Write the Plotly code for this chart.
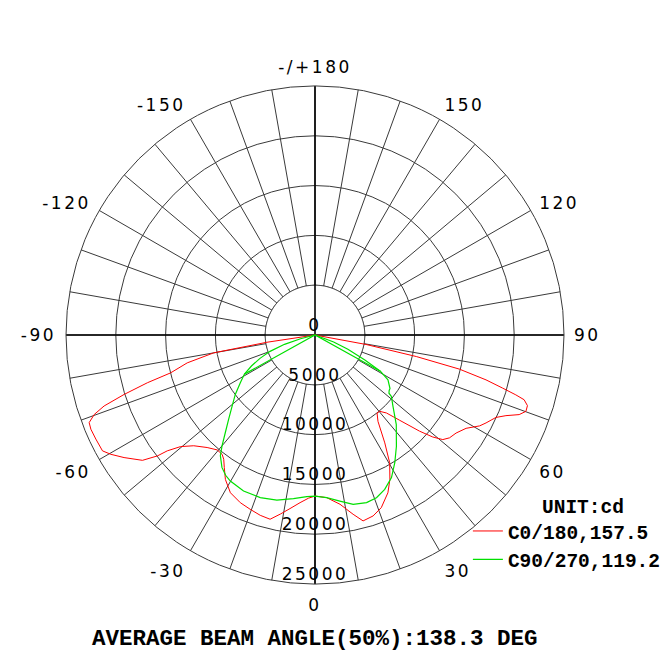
import plotly.graph_objects as go

# luminous intensity distribution (cd)
# C0/180 plane
c0_theta = [-82, -81.4, -80.0, -77.7, -75.3, -74.1, -72.7, -71.4, -70.2, -68.8,
            -67.2, -64.6, -61.4, -59.7, -57.3, -54.0, -52.5, -51.9, -50.3, -47.6,
            -43.8, -40.4, -37.9, -36.3, -34.4, -31.8, -28.2, -24.0, -20.4, -16.9,
            -13.7, -10.9, -8.2, -5.1, -2.3, 0, 4.1, 8.4, 12.0, 14.5,
            17.8, 21.0, 24.8, 27.4, 30.3, 32.9, 36.1, 38.5, 40.3, 42.5,
            44.8, 47.4, 49.1, 50.7, 52.6, 55.2, 58.3, 61.1, 62.8, 65.5,
            67.1, 68.7, 70.1, 71.6, 72.8, 73.4, 74.2, 75.3, 76.7, 78.0,
            79.5, 82]
c0_cd = [0, 4890, 10330, 13130, 14990, 17500, 20080, 22340, 23560, 24320,
         24410, 24360, 24300, 23740, 22780, 21410, 19940, 18850, 17540, 16490,
         15650, 15150, 15180, 15480, 16120, 17070, 17970, 18430, 18670, 18920,
         19040, 18300, 17610, 16900, 16400, 16170, 16370, 17180, 18400, 19280,
         19080, 18570, 17450, 16340, 14860, 12900, 10730, 10010, 10050, 10620,
         12070, 14270, 15640, 16580, 17000, 17250, 17830, 18880, 19310, 19960,
         20810, 22000, 22520, 22480, 21980, 21040, 19570, 17750, 14900, 10400,
         5200, 0]

# C90/270 plane (None splits off the straight closing strokes)
c90_theta = [-78, -75.5, -73, -70, -67, -64, -61, -57.4, -53.3, -49.4,
             -45.7, -42.6, -40.0, -38.1, -35.1, -32.5, -30.1, -24.6, -18.6, -13.0,
             -7.5, -2.9, 0, 4.1, 8.5, 12.7, 17.1, 20.7, 24.3, 28.2,
             32.0, 36.2, 42.2, 47.5, 51.2, 51.8, 53.2, 54.5, 58.4, 61.0,
             63.4, 66.5, 69.5, 72, None, -61, 0, 61]
c90_cd = [0, 1500, 3200, 4800, 6000, 7100, 8100, 8900, 9980, 10960,
          12120, 13300, 14520, 15400, 16250, 16700, 16950, 17230, 17230, 17010,
          16570, 16250, 16170, 16370, 16860, 17430, 17610, 17460, 17010, 16250,
          15120, 13840, 12150, 10620, 9840, 9450, 9300, 9250, 8600, 7500,
          5600, 3600, 2000, 0, None, 8100, 0, 7500]

r_ticks = [0, 5000, 10000, 15000, 20000, 25000]
r_labels = ["0", "5000", "10000", "15000", "20000", "25000"]
ang_ticks = list(range(0, 360, 10))
ang_names = {0: "0", 30: "30", 60: "60", 90: "90", 120: "120", 150: "150",
             180: "-/+180", 210: "-150", 240: "-120", 270: "-90", 300: "-60", 330: "-30"}

grid_col = "#3a3a3a"
spaced = '<span style="letter-spacing:2.5px">%s</span>'
lab_font = dict(family="DejaVu Sans", size=17, color="black")
mono_font = dict(family="Liberation Mono", size=19.5, color="black", weight="bold")

r_max = r_ticks[-1]
r_hub = r_ticks[1]

fig = go.Figure()

# white hub so the spokes start at the first ring
fig.add_trace(go.Scatterpolar(
    r=[r_hub] * 361, theta=list(range(361)), mode="lines",
    fill="toself", fillcolor="white",
    line=dict(color=grid_col, width=1),
    showlegend=False, hoverinfo="skip"))

# main cross through the centre
fig.add_trace(go.Scatterpolar(
    r=[r_max, 0, r_max, None, r_max, 0, r_max],
    theta=[0, 0, 180, None, 90, 90, 270],
    mode="lines", line=dict(color="black", width=1.6),
    showlegend=False, hoverinfo="skip"))

fig.add_trace(go.Scatterpolar(
    r=c0_cd, theta=c0_theta, mode="lines",
    name="C0/180,157.5", line=dict(color="#ff0000", width=1)))

fig.add_trace(go.Scatterpolar(
    r=c90_cd, theta=c90_theta, mode="lines",
    name="C90/270,119.2", line=dict(color="#00e000", width=1.2)))

# radial labels down the 0 deg spoke
fig.add_trace(go.Scatterpolar(
    r=r_ticks, theta=[0] * len(r_ticks), mode="text",
    text=[spaced % t for t in r_labels], textposition="top center",
    textfont=lab_font, showlegend=False, hoverinfo="skip"))

fig.update_layout(
    width=670, height=670,
    margin=dict(l=58, r=114, t=78, b=94, autoexpand=False),
    paper_bgcolor="white",
    polar=dict(
        bgcolor="white",
        angularaxis=dict(
            rotation=-90, direction="counterclockwise",
            tickmode="array", tickvals=ang_ticks,
            ticktext=[spaced % ang_names[a] if a in ang_names else "" for a in ang_ticks],
            ticks="outside", ticklen=6, tickcolor="rgba(0,0,0,0)",
            tickfont=lab_font,
            showline=True, linecolor=grid_col, linewidth=1,
            gridcolor=grid_col, gridwidth=1),
        radialaxis=dict(
            range=[0, r_max], tickmode="array", tickvals=r_ticks,
            showticklabels=False, ticks="", showline=False,
            gridcolor=grid_col, gridwidth=1),
    ),
    showlegend=True,
    legend=dict(x=0.807, y=0.145, xanchor="left", yanchor="top",
                font=mono_font, bgcolor="rgba(0,0,0,0)",
                itemwidth=30, tracegroupgap=0),
    annotations=[
        dict(text="UNIT:cd", x=1.038, y=0.1536, xref="paper", yref="paper",
             xanchor="center", yanchor="middle", showarrow=False, font=mono_font),
        dict(text="AVERAGE BEAM ANGLE(50%):138.3 DEG", x=0.5, y=-0.11,
             xref="paper", yref="paper", xanchor="center", yanchor="middle",
             showarrow=False, font=dict(mono_font, size=22.5)),
    ],
)

fig.write_html("out.html")
